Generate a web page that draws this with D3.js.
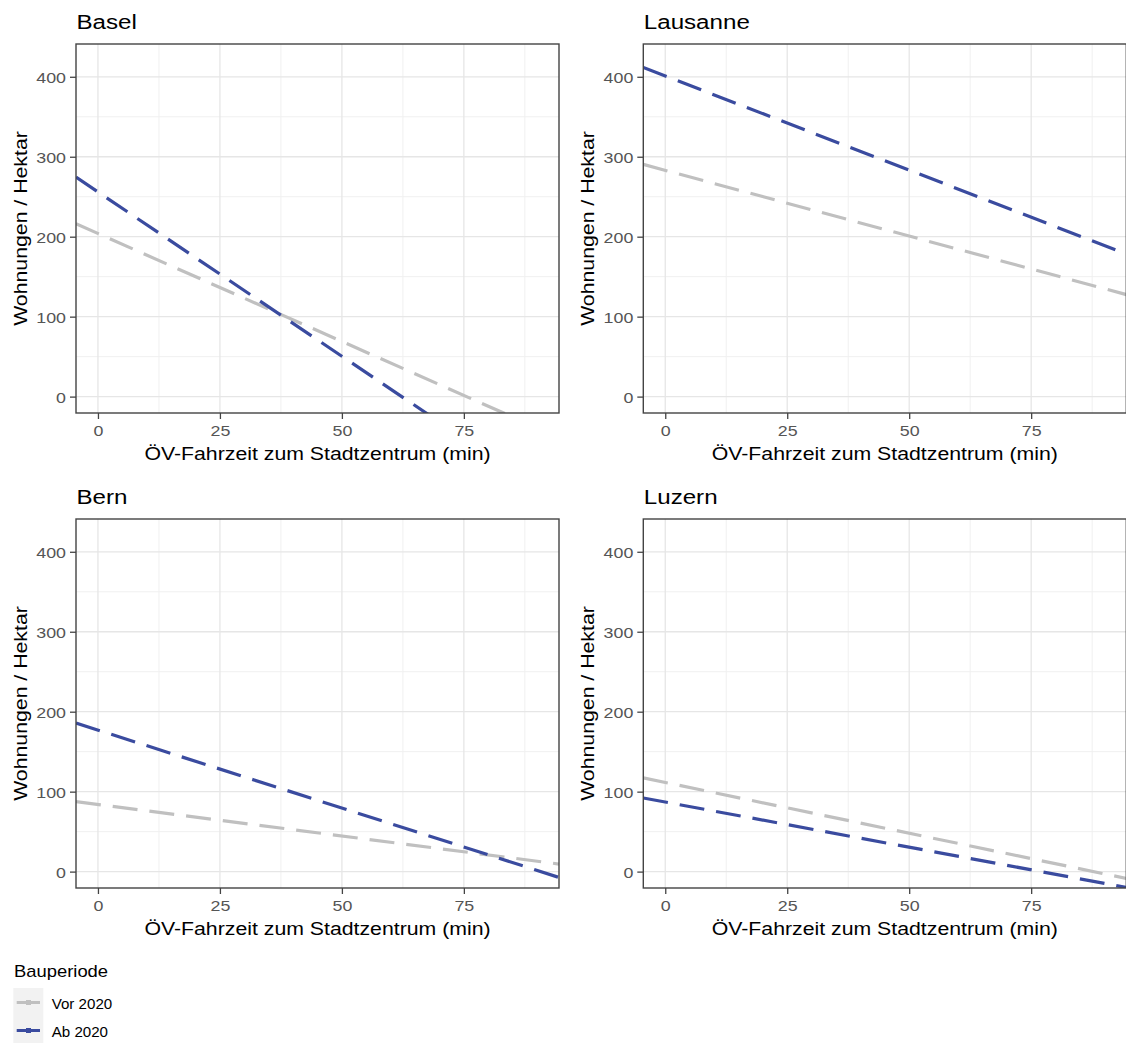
<!DOCTYPE html>
<html>
<head>
<meta charset="utf-8">
<script src="https://cdn.jsdelivr.net/npm/d3@7"></script>
<style>
  html, body { margin: 0; padding: 0; background: #fff; }
  svg { display: block; font-family: "Liberation Sans", Arial, Helvetica, sans-serif; }
</style>
</head>
<body>
<div id="chart"></div>
<script>
// Fitted lines per city: predicted dwellings per hectare at 0 and 90 minutes travel time
const cities = ["Basel", "Lausanne", "Bern", "Luzern"];
const seriesNames = ["Vor 2020", "Ab 2020"];
const vorAt0  = [204, 283, 84, 111.5];
const vorAt90 = [-39, 135, 13, -2.8];
const abAt0   = [256, 401, 177, 87];
const abAt90  = [-114, 189, 1.5, -14.7];
const xAnchors = [0, 90];

const xTicks = [0, 25, 50, 75];
const xMinor = [12.5, 37.5, 62.5, 87.5];
const yTicks = [0, 100, 200, 300, 400];
const yMinor = [50, 150, 250, 350];

const xTitle = "ÖV-Fahrzeit zum Stadtzentrum (min)";
const yTitle = "Wohnungen / Hektar";
const legendTitle = "Bauperiode";

const seriesColors = ["#c0c0c0", "#3a4b9f"];
const STRETCH = 1.15;

const W = 1126, H = 1043;
const panelW = 483, panelH = 369;
const colLeft = [76, 643.3];
const rowTop = [44, 519];

const svg = d3.select("#chart").append("svg")
  .attr("width", W).attr("height", H)
  .attr("viewBox", `0 0 ${W} ${H}`);

svg.append("rect").attr("width", W).attr("height", H).attr("fill", "#fff");

const x = d3.scaleLinear().domain([-4.5, 94.5]).range([0, panelW]);
const y = d3.scaleLinear().domain([-20.5, 441]).range([panelH, 0]);

// helper: text widened along its baseline
function addText(g, str, px, py, opts) {
  const t = g.append("text")
    .attr("transform", `translate(${px},${py})${opts.rotate ? " rotate(" + opts.rotate + ")" : ""} scale(${opts.stretch || STRETCH},1)`)
    .attr("font-size", opts.size)
    .attr("fill", opts.fill || "#000")
    .attr("text-anchor", opts.anchor || "start")
    .text(str);
  return t;
}

const lineData = cities.map((c, i) => [
  { name: seriesNames[0], v0: vorAt0[i], v90: vorAt90[i] },
  { name: seriesNames[1], v0: abAt0[i], v90: abAt90[i] }
]);

cities.forEach((city, i) => {
  const col = i % 2, row = Math.floor(i / 2);
  const g = svg.append("g").attr("transform", `translate(${colLeft[col]},${rowTop[row]})`);

  // minor grid
  g.selectAll("line.ymin").data(yMinor).join("line")
    .attr("x1", 0).attr("x2", panelW)
    .attr("y1", d => y(d)).attr("y2", d => y(d))
    .attr("stroke", "#f0f0f0").attr("stroke-width", 1);
  g.selectAll("line.xmin").data(xMinor).join("line")
    .attr("y1", 0).attr("y2", panelH)
    .attr("x1", d => x(d)).attr("x2", d => x(d))
    .attr("stroke", "#f0f0f0").attr("stroke-width", 1);
  // major grid
  g.selectAll("line.ymaj").data(yTicks).join("line")
    .attr("x1", 0).attr("x2", panelW)
    .attr("y1", d => y(d)).attr("y2", d => y(d))
    .attr("stroke", "#e6e6e6").attr("stroke-width", 1.3);
  g.selectAll("line.xmaj").data(xTicks).join("line")
    .attr("y1", 0).attr("y2", panelH)
    .attr("x1", d => x(d)).attr("x2", d => x(d))
    .attr("stroke", "#e6e6e6").attr("stroke-width", 1.3);

  // clip for fitted lines
  const clipId = "clip" + i;
  g.append("clipPath").attr("id", clipId)
    .append("rect").attr("width", panelW).attr("height", panelH);

  const lineGen = d3.line().x(p => x(p[0])).y(p => y(p[1]));
  g.append("g").attr("clip-path", `url(#${clipId})`)
    .selectAll("path").data(lineData[i]).join("path")
    .attr("d", d => {
      const slope = (d.v90 - d.v0) / (xAnchors[1] - xAnchors[0]);
      const [a, b] = x.domain();
      return lineGen([[a, d.v0 + slope * (a - xAnchors[0])], [b, d.v0 + slope * (b - xAnchors[0])]]);
    })
    .attr("fill", "none")
    .attr("stroke", (d, k) => seriesColors[k])
    .attr("stroke-width", 3.2)
    .attr("stroke-dasharray", "25,12");

  // panel border
  g.append("rect").attr("width", panelW).attr("height", panelH)
    .attr("fill", "none").attr("stroke", "#444").attr("stroke-width", 1.4);

  // axes
  const yAxis = d3.axisLeft(y).tickValues(yTicks).tickSize(6).tickFormat(d3.format("d"));
  const ya = g.append("g").call(yAxis);
  const xAxis = d3.axisBottom(x).tickValues(xTicks).tickSize(6).tickFormat(d3.format("d"));
  const xa = g.append("g").attr("transform", `translate(0,${panelH})`).call(xAxis);
  [ya, xa].forEach(a => {
    a.select(".domain").remove();
    a.selectAll(".tick line").attr("stroke", "#444").attr("stroke-width", 1.3);
    a.selectAll(".tick text").remove();
  });
  ya.selectAll(".tick").each(function(d) {
    addText(d3.select(this), String(d), -10, 5.5, { size: 15.5, fill: "#555", anchor: "end" });
  });
  xa.selectAll(".tick").each(function(d) {
    addText(d3.select(this), String(d), 0, 23, { size: 15.5, fill: "#555", anchor: "middle" });
  });

  // titles
  addText(g, city, 0.5, -14.7, { size: 21 });
  addText(g, xTitle, panelW / 2, panelH + 47, { size: 18.5, anchor: "middle" });
  addText(g, yTitle, 26.7 - colLeft[0], panelH / 2, { size: 18.5, anchor: "middle", rotate: -90 });
});

// legend
const lg = svg.append("g");
addText(lg, legendTitle, 14, 977.3, { size: 16 });
const keyTop = 988, keyH = 28;
seriesNames.forEach((s, k) => {
  const ky = keyTop + k * keyH;
  lg.append("rect").attr("x", 13.3).attr("y", ky).attr("width", 30).attr("height", keyH)
    .attr("fill", "#f2f2f2");
  lg.append("line").attr("x1", 16.7).attr("x2", 40).attr("y1", ky + 14.5).attr("y2", ky + 14.5)
    .attr("stroke", seriesColors[k]).attr("stroke-width", 3);
  lg.append("rect").attr("x", 26).attr("y", ky + 12).attr("width", 5).attr("height", 5)
    .attr("fill", seriesColors[k]);
  addText(lg, s, 51.7, ky + 20.5, { size: 14, stretch: 1.08 });
});
</script>
</body>
</html>
